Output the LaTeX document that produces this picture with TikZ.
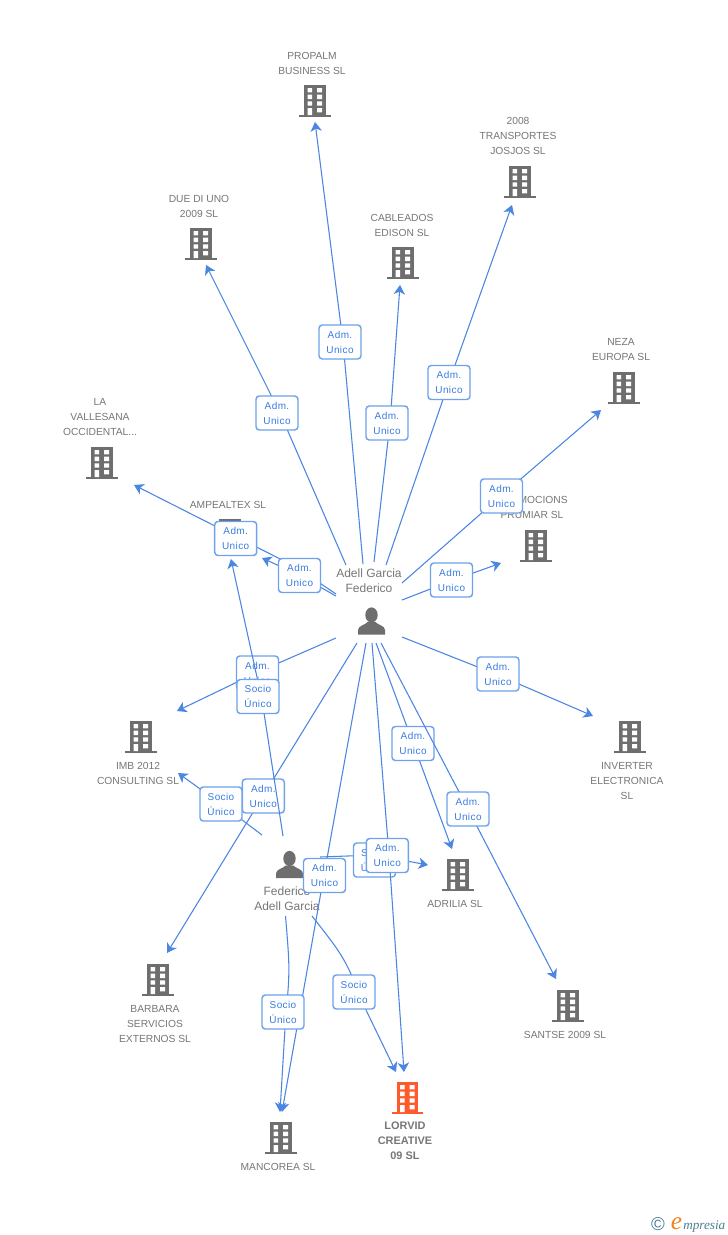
\documentclass[tikz,border=0pt]{standalone}
\usepackage{fontspec}
\setmainfont{Liberation Sans}
\newfontfamily\tagfont[LetterSpace=4]{Liberation Sans}
\newfontfamily\logofont{Liberation Serif}
\usetikzlibrary{arrows.meta}
\definecolor{linkblue}{HTML}{4A86E2}
\definecolor{tagline}{HTML}{6EA2EA}
\definecolor{tagtext}{HTML}{3A7CDF}
\definecolor{labelgray}{HTML}{777777}
\definecolor{icongray}{HTML}{6E6E6E}
\definecolor{iconred}{HTML}{FF5A2C}
\definecolor{logoteal}{HTML}{4A8096}
\definecolor{logoorange}{HTML}{EE8420}
\tikzset{
	link/.style={draw=linkblue, line width=0.8pt, line join=round, >={Stealth[length=7pt,width=8.5pt,inset=2pt]}},
	tag/.style={draw=tagline, line width=1.1pt, rounded corners=2.5pt, fill=white, text=tagtext, align=center, inner sep=0pt, minimum width=31.5pt, minimum height=25.5pt, font=\tagfont\fontsize{7.5pt}{11.25pt}\selectfont},
	company/.style={text=labelgray, align=center, inner sep=0pt, font=\fontsize{7.7pt}{11.25pt}\selectfont},
	person/.style={text=labelgray, align=center, inner sep=0pt, font=\fontsize{9pt}{11.25pt}\selectfont},
	office/.pic={
		\fill[pic actions] (-15.8,14) rectangle (15.8,16);
		\fill[pic actions] (-10.8,-16) rectangle (10.8,15);
		\foreach \y in {-13,-6.3,0.3} \fill[white] (-7.5,\y) rectangle ++(4.5,4.4) (2,\y) rectangle ++(5,4.4);
		\fill[white] (-7.5,7) rectangle (-3,14) (2,7) rectangle (7,11.3);
	},
	human/.pic={
		\fill[icongray] (0,-6) ellipse (6.2 and 7.6);
		\fill[icongray] (-13.5,13.5) -- (-13.5,9) .. controls (-13.5,4.5) and (-6,4) .. (-4,1) -- (4,1) .. controls (6,4) and (13.5,4.5) .. (13.5,9) -- (13.5,13.5) -- cycle;
	},
}
\def\adm{Adm.\\Unico}
\def\soc{Socio\\Único}
\begin{document}
\begin{tikzpicture}[x=0.75pt, y=-0.75pt]
	\useasboundingbox[fill=white] (0,0) rectangle (728,1235);
	% buildings
	\foreach \n/\p in {Prop/{315,101},Jos/{520,182},Due/{201,244},Cabl/{403,263},Neza/{624,388},Valle/{102,463},Amp/{230,535},Prom/{536,546},Imb/{141,737},Inv/{630,737},Adr/{458,875},Barb/{158,980},Sant/{568,1006},Manc/{281,1138}}
		\pic[fill=icongray] (icon\n) at (\p) {office};
	\pic[fill=iconred] (iconLorvid) at (407.5,1098) {office};
	\node[company] (labProp) at (312,63) {PROPALM\\BUSINESS SL};
	\node[company] (labJos) at (518,136) {2008\\TRANSPORTES\\JOSJOS SL};
	\node[company] (labDue) at (199,206) {DUE DI UNO\\2009 SL};
	\node[company] (labCabl) at (402,225) {CABLEADOS\\EDISON SL};
	\node[company] (labNeza) at (621,350) {NEZA\\EUROPA SL};
	\node[company] (labValle) at (100,417) {LA\\VALLESANA\\OCCIDENTAL...};
	\node[company] (labAmp) at (228,505) {AMPEALTEX SL};
	\node[company] (labProm) at (532,507) {PROMOCIONS\\PRUMIAR SL};
	\node[company] (labImb) at (138,773) {IMB 2012\\CONSULTING SL};
	\node[company] (labInv) at (627,781) {INVERTER\\ELECTRONICA\\SL};
	\node[company] (labAdr) at (455,904) {ADRILIA SL};
	\node[company] (labBarb) at (155,1024) {BARBARA\\SERVICIOS\\EXTERNOS SL};
	\node[company] (labSant) at (565,1035) {SANTSE 2009 SL};
	\node[company] (labManc) at (278,1167) {MANCOREA SL};
	\node[company, font=\bfseries\fontsize{8.2pt}{11.25pt}\selectfont] (labLorvid) at (405,1141) {LORVID\\CREATIVE\\09 SL};
	% people
	\pic (iconAdell) at (371.5,621) {human};
	\pic (iconFed) at (289.5,864.5) {human};
	\node[person] (labAdell) at (369,580.5) {Adell Garcia\\Federico};
	\node[person] (labFed) at (287,899) {Federico\\Adell Garcia};
	% ends and hidden bends of the connectors
	\path
	(363,564) coordinate (sProp) (343,342) coordinate (mProp) (315,122) coordinate (eProp) (340,342) coordinate (tProp)
	(346,565) coordinate (sDue) (280,413) coordinate (mDue) (206,265) coordinate (eDue) (277,413) coordinate (tDue)
	(374,562) coordinate (sCabl) (390,423) coordinate (mCabl) (400,285) coordinate (eCabl) (387,423) coordinate (tCabl)
	(386,565) coordinate (sJos) (449,382) coordinate (mJos) (512,205) coordinate (eJos) (449,382.5) coordinate (tJos)
	(402,583) coordinate (sNeza) (501,496) coordinate (mNeza) (601,410) coordinate (eNeza) (501.5,496) coordinate (tNeza)
	(402,600) coordinate (sProm) (451,581) coordinate (mProm) (501,563) coordinate (eProm) (451.5,580) coordinate (tProm)
	(336,594) coordinate (sValle) (296,567) coordinate (mValle) (134,485) coordinate (eValle) (235.7,538.5) coordinate (tValle)
	(336,596) coordinate (sAmp) (299,575) coordinate (mAmp) (262,558) coordinate (eAmp) (299.5,575.5) coordinate (tAmp)
	(336,638) coordinate (sImb) (258,672) coordinate (mImb) (177,711) coordinate (eImb) (257.5,673) coordinate (tImb)
	(357,643) coordinate (sBarb) (263,796) coordinate (mBarb) (167,953) coordinate (eBarb) (263.3,796) coordinate (tBarb)
	(366,643) coordinate (sManc) (324,875) coordinate (mManc) (282,1112) coordinate (eManc) (324.5,875.5) coordinate (tManc)
	(376,643) coordinate (sAdr) (413,743) coordinate (mAdr) (452,849) coordinate (eAdr) (413,743.5) coordinate (tAdr)
	(381,643) coordinate (sSant) (468,809) coordinate (mSant) (556,979) coordinate (eSant) (468,809) coordinate (tSant)
	(402,637) coordinate (sInv) (498,675) coordinate (mInv) (593,716) coordinate (eInv) (498,674) coordinate (tInv)
	(283,836) coordinate (sFedAmp) (262,700) coordinate (mFedAmp) (231,559) coordinate (eFedAmp) (258,696.5) coordinate (tFedAmp)
	(262,835) coordinate (sFedImb) (221,804) coordinate (mFedImb) (178,773) coordinate (eFedImb) (221,804) coordinate (tFedImb)
	(320,857) coordinate (sFedAdr) (375,855) coordinate (mFedAdr) (428,865) coordinate (eFedAdr) (374.5,860) coordinate (tFedAdr)
	(372,643) coordinate (sLorvid) (389,855) coordinate (mLorvid) (404,1072) coordinate (eLorvid) (387.3,855.5) coordinate (tLorvid)
	;
	% Adell Garcia Federico
	\foreach \n/\txt in {Prop/\adm,Due/\adm,Cabl/\adm,Jos/\adm,Neza/\adm,Prom/\adm,Valle/\adm,Amp/\adm,Imb/\adm,Barb/\adm,Manc/\adm,Adr/\adm,Sant/\adm,Inv/\adm} {
		\draw[link,->] (s\n)--(m\n)--(e\n);
		\node[tag] (tag\n) at (t\n) {\txt};
	}
	% Federico Adell Garcia
	\foreach \n/\txt in {FedAmp/\soc,FedImb/\soc,FedAdr/\soc} {
		\draw[link,->] (s\n)--(m\n)--(e\n);
		\node[tag] (tag\n) at (t\n) {\txt};
	}
	\path (285.5,916) coordinate (sFedManc) (285.5,1020) coordinate (mFedManc) (280,1112) coordinate (eFedManc);
	\draw[link,->] (sFedManc) .. controls (290,970) .. (mFedManc)--(eFedManc);
	\node[tag] (tagFedManc) at (283,1012) {\soc};
	\path (312,916) coordinate (sFedLorvid) (366,1010) coordinate (mFedLorvid) (396,1072) coordinate (eFedLorvid);
	\draw[link,->] (sFedLorvid) .. controls (345,958) .. (mFedLorvid)--(eFedLorvid);
	\node[tag] (tagFedLorvid) at (354,992) {\soc};
	% last one lies on top
	\draw[link,->] (sLorvid)--(mLorvid)--(eLorvid);
	\node[tag] (tagLorvid) at (tLorvid) {\adm};
	% logo
	\node[inner sep=0pt, text=logoteal, font=\fontsize{14pt}{15pt}\selectfont] (logoC) at (658,1224) {©};
	\node[inner sep=0pt, anchor=base west, text=logoorange, font=\logofont\itshape\fontsize{19pt}{20pt}\selectfont] (logoE) at (670.5,1229) {e};
	\node[inner sep=0pt, anchor=base west, text=logoteal, font=\logofont\itshape\fontsize{9.9pt}{11pt}\selectfont] (logoText) at (683,1229) {mpresia};
\end{tikzpicture}
\end{document}
